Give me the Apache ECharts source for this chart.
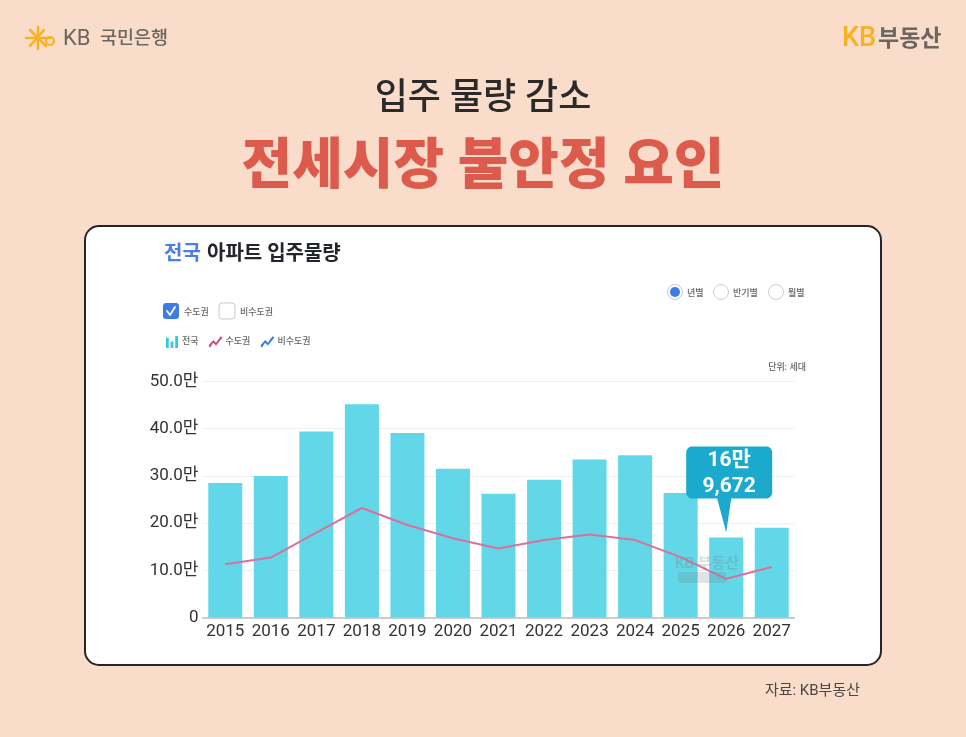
<!DOCTYPE html>
<html><head><meta charset="utf-8">
<style>html,body{margin:0;padding:0;background:#f9dcc9}#c{width:966px;height:737px}</style>
<script src="https://cdn.jsdelivr.net/npm/echarts@6/dist/echarts.min.js"></script>
</head><body><div id="c"></div>
<script>
const categories=['2015','2016','2017','2018','2019','2020','2021','2022','2023','2024','2025','2026','2027'];
const nationwide=[285000,300000,394000,452000,391000,315000,262000,292000,335000,344000,264000,169672,190000];
const capitalArea=[113000,127000,180000,232000,196000,168000,146000,164000,176000,164000,128000,82000,107000];
const nonCapitalArea=[];
const F='Roboto,"Noto Sans CJK KR",sans-serif';
const txt=(x,y,text,size,color,weight,align,extra)=>({type:'text',x,y,z:5,style:Object.assign({text,font:`${weight||400} ${size}px ${F}`,fill:color,textAlign:align||'left',textVerticalAlign:'middle'},extra||{})});
const line=(pts,color,w)=>({type:'polyline',z:5,shape:{points:pts},style:{stroke:color,lineWidth:w,fill:null,lineCap:'round',lineJoin:'round'}});
const graphics=[
 {type:'rect',z:-1,shape:{x:85,y:226,width:796,height:439,r:14},style:{fill:'#fff',stroke:'#26262a',lineWidth:2}},
 // KB star logo
 line([[26,38],[50,38]],'#f7b21e',2.5),line([[38,27],[38,49]],'#f7b21e',2.5),line([[30,30],[46,46]],'#f7b21e',2.5),line([[30,46],[44,30]],'#f7b21e',2.5),
 {type:'circle',z:5,shape:{cx:50,cy:41,r:4},style:{fill:'none',stroke:'#f7b21e',lineWidth:2.2}},
 txt(63,39,'KB',22,'#6b6660',400),
 txt(100,39,'국민은행',18.5,'#6b6660',500,'left'),
 txt(842,39,'KB',27,'#f7b21e',500),
 txt(878,40,'부동산',23,'#6b6660',700),
 txt(164,255,'전국',20,'#4a80e4',700),
 txt(207,255,'아파트 입주물량',20,'#22252b',700),
 // checkbox
 {type:'rect',z:5,shape:{x:163,y:303,width:16,height:16,r:3},style:{fill:'#3f7be8'}},
 line([[167,311],[170,315],[175,307]],'#fff',1.8),
 txt(184,313,'수도권',9,'#666',500),
 {type:'rect',z:5,shape:{x:219,y:303,width:16,height:16,r:3},style:{fill:'#fff',stroke:'#c9c9c9',lineWidth:1}},
 txt(240,313,'비수도권',9,'#666',500),
 // radios
 {type:'circle',z:5,shape:{cx:675,cy:292,r:7.5},style:{fill:'#fff',stroke:'#b9c9ec',lineWidth:1}},
 {type:'circle',z:5,shape:{cx:675,cy:292,r:5},style:{fill:'#3f7be8'}},
 txt(687,294,'년별',9,'#666',500),
 {type:'circle',z:5,shape:{cx:721,cy:292,r:7.5},style:{fill:'#fff',stroke:'#cfcfcf',lineWidth:1}},
 txt(733,294,'반기별',9,'#666',500),
 {type:'circle',z:5,shape:{cx:776,cy:292,r:7.5},style:{fill:'#fff',stroke:'#cfcfcf',lineWidth:1}},
 txt(788,294,'월별',9,'#666',500),
 txt(806,368,'단위: 세대',9,'#666',500,'right'),
 txt(860,691,'자료: KB부동산',15,'#4a4744',400,'right',{}),
 // watermark
 {type:'text',x:707,y:564,z:20,style:{text:'KB 부동산',font:`700 15px ${F}`,fill:'rgba(120,130,130,0.28)',textAlign:'center',textVerticalAlign:'middle'}},
 {type:'rect',z:20,shape:{x:678,y:572,width:48,height:11,r:2},style:{fill:'rgba(120,130,130,0.22)'}}
];
const tipPath='path://M6 0H80C83.3 0 86 2.7 86 6V46C86 49.3 83.3 52 80 52H45L40 86L31 52H6C2.7 52 0 49.3 0 46V6C0 2.7 2.7 0 6 0Z';
const chart=echarts.init(document.getElementById('c'),null,{renderer:'canvas'});
chart.setOption({
 animation:false,
 backgroundColor:'#f9dcc9',
 textStyle:{fontFamily:F},
 title:[
  {text:'입주 물량 감소',left:'center',top:77,textStyle:{fontFamily:F,fontSize:36,fontWeight:500,color:'#2a2a2a'}},
  {text:'전세시장 불안정 요인',left:'center',top:137,textStyle:{fontFamily:F,fontSize:55,fontWeight:900,color:'#dc5b4c'}}
 ],
 graphic:graphics,
 legend:{
  left:161,top:331,itemWidth:14,itemHeight:12,itemGap:10,selectedMode:false,
  textStyle:{fontFamily:F,fontSize:9,color:'#666',fontWeight:500,padding:[1,0,0,-2]},
  data:[
   {name:'전국',icon:'path://M0 3H3V14H0ZM5 7H8V14H5ZM10 1H13V14H10Z',itemStyle:{color:'#35c9de'}},
   {name:'수도권',icon:'path://M0 11L5 5L8 8L13 1L15 2.5L8 11L5 8L1.5 13.5Z',itemStyle:{color:'#d6457f'}},
   {name:'비수도권',icon:'path://M0 11L5 5L8 8L13 1L15 2.5L8 11L5 8L1.5 13.5Z',itemStyle:{color:'#2f7fe0'}}
  ]
 },
 grid:{left:202.5,right:171.5,top:381.5,bottom:119.5},
 xAxis:{type:'category',data:categories,
  axisTick:{show:false},axisLine:{lineStyle:{color:'#bdbdbd',width:1.5}},
  axisLabel:{interval:0,fontSize:17,color:'#333',margin:6,fontFamily:F}},
 yAxis:{type:'value',min:0,max:500000,interval:100000,
  axisLine:{show:false},axisTick:{show:false},
  splitLine:{lineStyle:{color:'#eef0f4',width:1}},
  axisLabel:{fontSize:17,color:'#333',margin:4,fontFamily:F,
   formatter:v=>v===0?'0':(v/10000).toFixed(1)+'만'}},
 series:[
  {name:'전국',type:'bar',data:nationwide,barWidth:34,itemStyle:{color:'#62d7e8'},
   markPoint:{silent:true,symbol:tipPath,symbolSize:[86,86],symbolKeepAspect:false,symbolOffset:[3,-48],
    itemStyle:{color:'#1ba9cd'},
    data:[{coord:['2026',169672],
     label:{show:true,position:'inside',offset:[0,-16],formatter:'16만\n9,672',color:'#fff',fontFamily:F,fontSize:21,fontWeight:700,lineHeight:26}}]}},
  {name:'수도권',type:'line',data:capitalArea,symbol:'none',smooth:false,lineStyle:{color:'#d9719f',width:2},itemStyle:{color:'#d9719f'},z:3},
  {name:'비수도권',type:'line',data:nonCapitalArea,symbol:'none',lineStyle:{color:'#2f7fe0',width:2},itemStyle:{color:'#2f7fe0'}}
 ]
});
</script></body></html>
